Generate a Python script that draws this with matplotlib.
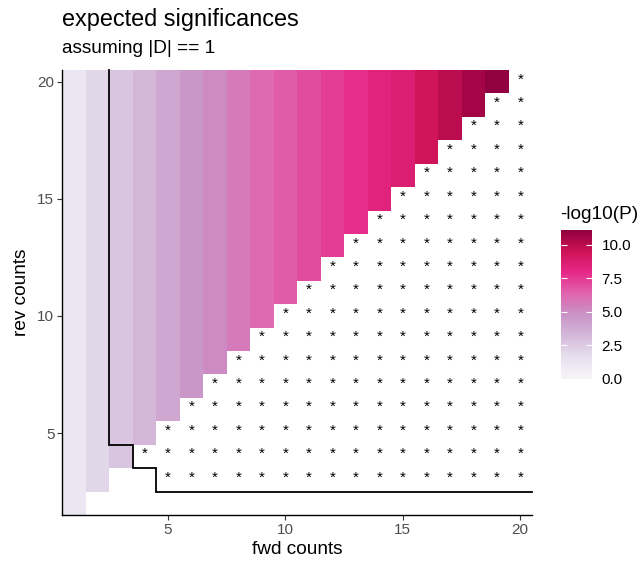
import numpy as np
import matplotlib.pyplot as plt
from matplotlib.colors import LinearSegmentedColormap

plt.rcParams['font.family'] = ['Liberation Sans', 'DejaVu Sans']

fwd = np.arange(1, 21)
rev = np.arange(2, 21)

# -log10(P) for each fwd count (1..19), shown in cells where fwd < rev
col_value = [1.2, 2.0, 2.7, 3.3, 4.0, 4.6, 5.1, 5.6, 6.2, 6.6,
             7.0, 7.4, 7.8, 8.3, 8.7, 9.4, 10.0, 10.6, 11.1]

# first significant fwd count for each rev row (2..20), 21 = none
sig_from = [21, 5, 4, 3, 3, 3, 3, 3, 3, 3, 3, 3, 3, 3, 3, 3, 3, 3, 3]

x_ticks = [5, 10, 15, 20]
y_ticks = [5, 10, 15, 20]
cbar_ticks = [0, 2.5, 5, 7.5, 10]

purd = ['#f7f4f9', '#e7e1ef', '#d4b9da', '#c994c7',
        '#df65b0', '#e7298a', '#ce1256', '#91003f']
cmap = LinearSegmentedColormap.from_list('purd', purd)

Z = np.full((len(rev), len(fwd)), np.nan)
for i, r in enumerate(rev):
    for j, f in enumerate(fwd):
        if f < r:
            Z[i, j] = col_value[f - 1]
Z = np.ma.masked_invalid(Z)

fig = plt.figure(figsize=(6.43, 5.67), dpi=100)
ax = fig.add_axes([62 / 643, 1 - 515 / 567, 470 / 643, 445 / 567])

mesh = ax.pcolormesh(np.arange(0.5, 21), np.arange(1.5, 21), Z,
                     cmap=cmap, vmin=0, vmax=11.1, shading='flat')

# significance stars in the empty half
for i, r in enumerate(rev):
    for f in range(max(sig_from[i], r), 21):
        ax.text(f, r + 0.1, '*', ha='center', va='center', fontsize=11, color='black')

# boundary of the significant region
bx, by = [], []
for i in range(len(rev) - 1, 0, -1):
    r = rev[i]
    xb = sig_from[i] - 0.5
    bx += [xb, xb]
    by += [r + 0.5, r - 0.5]
bx.append(20.5)
by.append(2.5)
ax.plot(bx, by, color='black', lw=1.3, clip_on=False, solid_joinstyle='miter')

ax.set_xlim(0.5, 20.5)
ax.set_ylim(1.5, 20.5)
ax.set_xticks(x_ticks)
ax.set_yticks(y_ticks)
for s in ['top', 'right']:
    ax.spines[s].set_visible(False)
for s in ['left', 'bottom']:
    ax.spines[s].set_linewidth(1.0)
ax.tick_params(length=3.5, width=0.8, color='#333333', labelcolor='#4d4d4d',
               labelsize=11, pad=2)
ax.set_xlabel('fwd counts', fontsize=13.7, labelpad=3)
ax.set_ylabel('rev counts', fontsize=13.7, labelpad=5)

fig.text(62 / 643, 1 - 26 / 567, 'expected significances', fontsize=16.9, va='baseline')
fig.text(62 / 643, 1 - 53 / 567, 'assuming |D| == 1', fontsize=13.7, va='baseline')

cax = fig.add_axes([561 / 643, 1 - 379 / 567, 31 / 643, 149 / 567])
cb = fig.colorbar(mesh, cax=cax, ticks=cbar_ticks, format='%.1f')
cb.outline.set_visible(False)
cax.tick_params(direction='in', color='white', length=4.5, width=0.8,
                left=True, right=True, labelsize=11, pad=7)
fig.text(560 / 643, 1 - 219 / 567, '-log10(P)', fontsize=13.7, va='baseline')

fig.savefig('out.png', dpi=100)
